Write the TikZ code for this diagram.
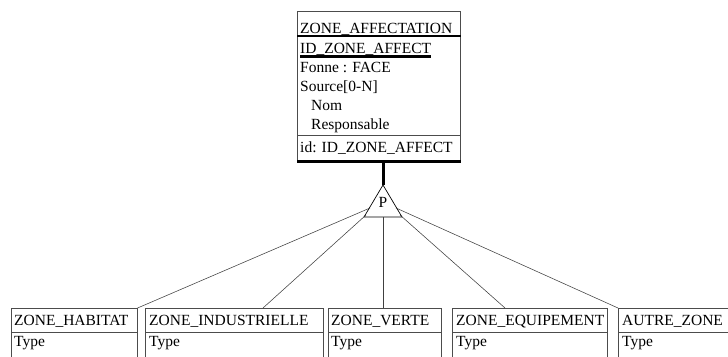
\documentclass[tikz,border=0pt]{standalone}
\usepackage{fontspec}
\setmainfont{Liberation Serif}
\usetikzlibrary{calc}
\begin{document}
\begin{tikzpicture}[x=1pt,y=-1pt,
  ebox/.style={draw=black!70, line width=0.6pt, anchor=north west, inner sep=0pt},
  lbl/.style={anchor=base west, inner sep=0pt, font=\fontsize{15.5}{18}\selectfont},
  conn/.style={draw=black!75, line width=0.55pt},
  heavy/.style={line width=2.6pt}]
\useasboundingbox (0,0) rectangle (728,356);
\clip (0,0) rectangle (728,356);
\fill[white] (0,0) rectangle (728,356);

% top entity
\node[ebox, minimum width=163pt, minimum height=150pt] (za) at (297,11) {};
\draw[heavy] ([yshift=-25pt]za.north west) -- ([yshift=-25pt]za.north east);
\draw[draw=black!70, line width=0.6pt] ([yshift=-124pt]za.north west) -- ([yshift=-124pt]za.north east);
\draw[line width=3pt] (za.south west) -- (za.south east);
\node[lbl] (zat) at (300,33) {ZONE\_AFFECTATION};
\node[lbl] (zid) at (300,53) {ID\_ZONE\_AFFECT};
\draw[line width=2.4pt] ([yshift=-3.5pt]zid.base west) -- ([yshift=-3.5pt]zid.base east);
\node[lbl] (zfo) at (300,72) {Fonne : FACE};
\node[lbl] (zso) at (300,91) {Source[0-N]};
\node[lbl] (zno) at (311,110) {Nom};
\node[lbl] (zre) at (311,129) {Responsable};
\node[lbl] (zii) at (300,152) {id: ID\_ZONE\_AFFECT};

% ISA triangle
\coordinate (apex) at (383,185);
\coordinate (tbl) at (364,217);
\coordinate (tbr) at (402,217);
\coordinate (tbm) at (383,217);
\coordinate (tl1) at (370,208);
\coordinate (tl2) at (366,215);
\coordinate (tr2) at (400,215);
\coordinate (tr1) at (396,208);
\draw[line width=3pt] (za.south -| apex) -- (apex);
\draw[line width=0.7pt] (apex) -- (tbl) -- (tbr) -- cycle;
\node[anchor=base, inner sep=0pt, font=\fontsize{15.5}{18}\selectfont] (P) at (383,207) {P};

% bottom entities
\node[ebox, minimum width=126pt, minimum height=80pt] (hab) at (11,308) {};
\node[ebox, minimum width=178pt, minimum height=80pt] (ind) at (145,308) {};
\node[ebox, minimum width=113pt, minimum height=80pt] (ver) at (328,308) {};
\node[ebox, minimum width=155pt, minimum height=80pt] (equ) at (452,308) {};
\node[ebox, minimum width=142pt, minimum height=80pt] (aut) at (618,308) {};
\foreach \b in {hab,ind,ver,equ,aut}{
  \draw[draw=black!70, line width=0.6pt] ([yshift=-24pt]\b.north west) -- ([yshift=-24pt]\b.north east);
}
\node[lbl] (habt) at (14,325) {ZONE\_HABITAT};
\node[lbl] (habx) at (14,346) {Type};
\node[lbl] (indt) at (149,325) {ZONE\_INDUSTRIELLE};
\node[lbl] (indx) at (149,346) {Type};
\node[lbl] (vert) at (331,325) {ZONE\_VERTE};
\node[lbl] (verx) at (331,346) {Type};
\node[lbl] (equt) at (456,325) {ZONE\_EQUIPEMENT};
\node[lbl] (equx) at (456,346) {Type};
\node[lbl] (autt) at (622,325) {AUTRE\_ZONE};
\node[lbl] (autx) at (622,346) {Type};

% connectors
\coordinate (indT) at (263,308);
\coordinate (equT) at (505,308);
\draw[conn] (tl1) -- (hab.north east);
\draw[conn] (tl2) -- (indT);
\draw[conn] (tbm) -- (tbm |- ver.north);
\draw[conn] (tr2) -- (equT);
\draw[conn] (tr1) -- (aut.north west);
\end{tikzpicture}
\end{document}
